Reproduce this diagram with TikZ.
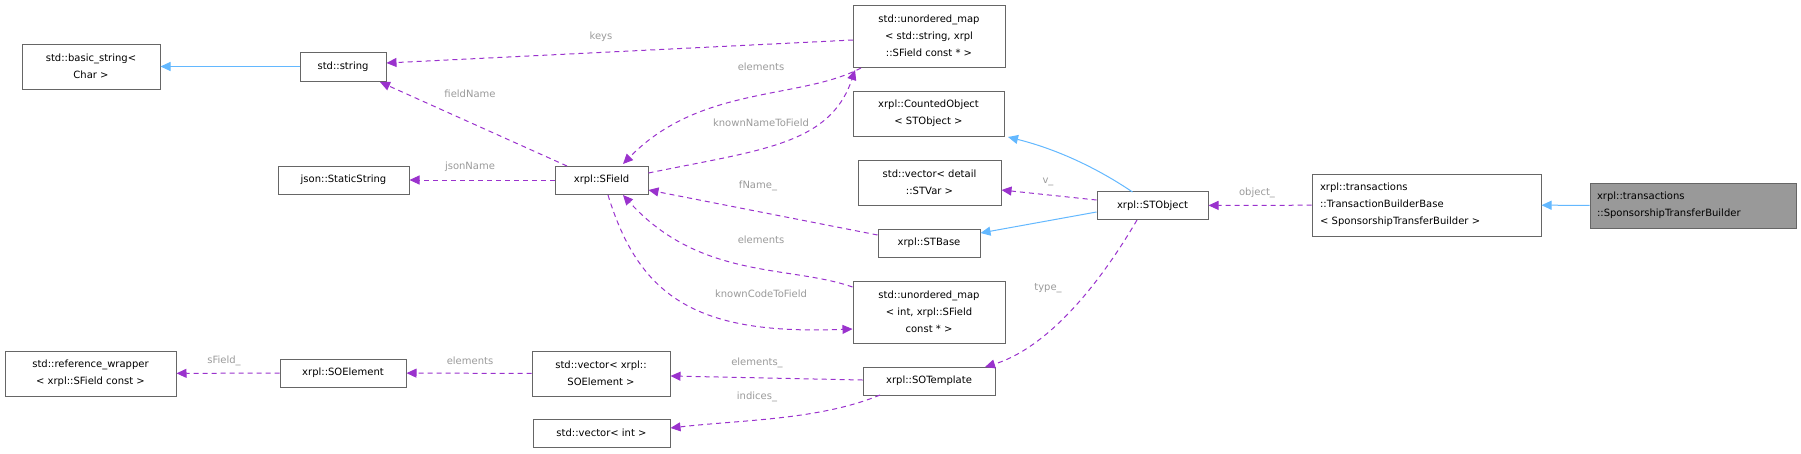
\documentclass[tikz,border=0pt]{standalone}
\usepackage{fontspec}
\setmainfont{DejaVu Sans}
\usetikzlibrary{arrows.meta}
\definecolor{dep}{HTML}{9A32CD}
\definecolor{inh}{HTML}{63B8FF}
\definecolor{lbl}{HTML}{9A9A9A}
\definecolor{box}{HTML}{666666}
\begin{document}
\begin{tikzpicture}[x=1pt,y=-1pt,
  every node/.style={font=\fontsize{10}{17}\selectfont},
  cls/.style={draw=box,line width=1pt,fill=white,inner sep=0pt,align=center},
  uses/.style={draw=dep,line width=1pt,dash pattern=on 5pt off 4pt,-{Triangle[length=10pt,width=9pt]}},
  isa/.style={draw=inh,line width=1pt,-{Triangle[length=10pt,width=9pt]}},
  lab/.style={text=lbl,inner sep=1pt}]
\useasboundingbox (0,0) rectangle (1801,453);
\newcommand{\bx}[6]{\node[cls,minimum width=#4,minimum height=#5,#6] (#1) at (#2,#3) {};}
% nodes
\node[cls,minimum width=138,minimum height=45] (bstr) at (91,66.5) {std::basic\_string<\\Char >};
\node[cls,minimum width=86,minimum height=29] (str) at (343,66.5) {std::string};
\node[cls,minimum width=131,minimum height=28] (json) at (343.5,180) {json::StaticString};
\node[cls,minimum width=93,minimum height=28] (sf) at (601.5,180) {xrpl::SField};
\node[cls,minimum width=171,minimum height=45] (refw) at (90.5,373.5) {std::reference\_wrapper\\< xrpl::SField const >};
\node[cls,minimum width=126,minimum height=28] (soe) at (343,373) {xrpl::SOElement};
\node[cls,minimum width=138,minimum height=45] (vsoe) at (601,373.5) {std::vector< xrpl::\\SOElement >};
\node[cls,minimum width=137,minimum height=28] (vint) at (601.5,433) {std::vector< int >};
\node[cls,minimum width=152,minimum height=62] (m1) at (929,36) {std::unordered\_map\\< std::string, xrpl\\::SField const * >};
\node[cls,minimum width=151,minimum height=45] (cnt) at (928.5,113.5) {xrpl::CountedObject\\< STObject >};
\node[cls,minimum width=143,minimum height=45] (vst) at (929.5,182.5) {std::vector< detail\\::STVar >};
\node[cls,minimum width=102,minimum height=28] (stb) at (929,243) {xrpl::STBase};
\node[cls,minimum width=152,minimum height=62] (m2) at (929,312) {std::unordered\_map\\< int, xrpl::SField\\const * >};
\node[cls,minimum width=132,minimum height=28] (sot) at (929,381) {xrpl::SOTemplate};
\node[cls,minimum width=111,minimum height=28] (sto) at (1152.5,205.5) {xrpl::STObject};
\node[cls,minimum width=229,minimum height=62,align=left,text width=213] (tbb) at (1426.5,205) {xrpl::transactions\\::TransactionBuilderBase\\< SponsorshipTransferBuilder >};
\node[cls,fill=gray!80,minimum width=206,minimum height=45,align=left,text width=192] (spt) at (1693,205.5) {xrpl::transactions\\::SponsorshipTransferBuilder};
% coordinates
\coordinate (m1w) at (853,40);
\coordinate (m1b1) at (861,68);
\coordinate (m1b2) at (855,70);
% edges
\draw[isa] (str) -- (bstr);
\draw[uses] (m1w) -- (str.east |- 0,63);
\draw[uses] (m1b1) .. controls (800,100) and (700,85) .. (623,164);
\draw[uses] (sf.east |- 0,173) .. controls (760,150) and (830,145) .. (m1b2);
\draw[uses] (sf) -- (json);
\draw[uses] (567,166) -- (380,82);
\draw[uses] (stb.west |- 0,235) -- (sf.east |- 0,190);
\draw[uses] (m2.west |- 0,287) .. controls (790,265) and (700,280) .. (623,195);
\draw[uses] (608,195) .. controls (640,300) and (700,335) .. (m2.west |- 0,329);
\draw[isa] (sto.north |- 0,192) ++(-20,0) .. controls (1100,170) and (1060,150) .. (1008,137);
\draw[uses] (sto.west |- 0,200) -- (vst.east |- 0,190);
\draw[isa] (sto.west |- 0,212) -- (stb.east |- 0,233);
\draw[uses] (1137,220) .. controls (1090,300) and (1040,350) .. (985,367);
\draw[uses] (tbb) -- (sto);
\draw[isa] (spt) -- (tbb);
\draw[uses] (sot.west |- 0,380) -- (vsoe.east |- 0,376);
\draw[uses] (880,395) .. controls (820,420) and (740,420) .. (vint.east |- 0,428);
\draw[uses] (vsoe) -- (soe);
\draw[uses] (soe) -- (refw);
% labels
\node[lab] (l1) at (601,37) {keys};
\node[lab] (l2) at (761,67) {elements};
\node[lab] (l3) at (761,123) {knownNameToField};
\node[lab] (l4) at (470,94) {fieldName};
\node[lab] (l5) at (470,167) {jsonName};
\node[lab] (l6) at (758,186) {fName\_};
\node[lab] (l7) at (761,240) {elements};
\node[lab] (l8) at (761,294) {knownCodeToField};
\node[lab] (l9) at (1048,182) {v\_};
\node[lab] (l10) at (1048,288) {type\_};
\node[lab] (l11) at (1257,193) {object\_};
\node[lab] (l12) at (757,363) {elements\_};
\node[lab] (l13) at (757,397) {indices\_};
\node[lab] (l14) at (470,361) {elements};
\node[lab] (l15) at (224,361) {sField\_};
\end{tikzpicture}
\end{document}
